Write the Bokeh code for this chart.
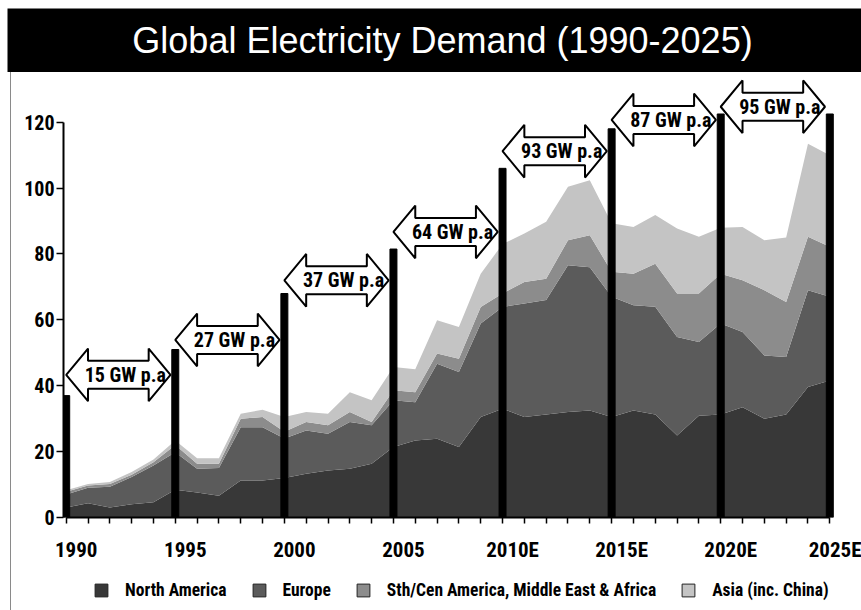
from bokeh.plotting import figure
from bokeh.models import (Range1d, LinearAxis, FixedTicker, Legend, LegendItem,
                          ColumnDataSource)
from bokeh.layouts import column
from bokeh.core.properties import value
from bokeh.embed import file_html
from bokeh.resources import INLINE

# ---- data -------------------------------------------------------------
years = list(range(1990, 2026))

north_america = [3.0, 4.3, 3.0, 4.0, 4.6, 8.4, 7.6, 6.6, 11.2, 11.2,
                 12.0, 13.3, 14.3, 14.8, 16.3, 21.4, 23.4, 23.9, 21.4, 30.5,
                 33.0, 30.5, 31.3, 32.0, 32.5, 30.5, 32.5, 31.3, 24.9, 30.9,
                 31.3, 33.5, 30.0, 31.3, 39.6, 41.6]
europe = [4.0, 4.7, 6.3, 8.3, 11.2, 11.4, 7.2, 8.4, 16.2, 16.2,
          12.0, 13.1, 11.1, 14.2, 11.7, 14.2, 11.6, 22.8, 22.8, 28.4,
          30.9, 34.5, 34.7, 44.6, 43.5, 36.5, 31.9, 32.7, 29.9, 22.4,
          27.6, 22.8, 19.2, 17.4, 29.4, 25.4]
sth_cen_mea = [0.8, 0.7, 0.9, 0.7, 1.0, 2.2, 1.5, 1.3, 2.6, 3.1,
               2.0, 2.6, 2.6, 3.0, 1.0, 3.0, 3.0, 3.1, 4.0, 5.0,
               4.1, 6.5, 6.5, 7.6, 9.7, 7.6, 9.6, 13.0, 13.2, 14.7,
               15.1, 15.7, 19.8, 16.7, 16.2, 15.2]
asia = [0.5, 0.5, 0.6, 0.8, 0.8, 1.4, 1.7, 1.7, 1.5, 2.2,
        4.5, 3.0, 3.5, 6.0, 6.6, 7.1, 7.0, 10.1, 9.6, 10.1,
        15.0, 14.7, 17.3, 16.2, 16.7, 14.7, 14.2, 14.8, 19.7, 17.2,
        14.0, 16.2, 15.2, 19.6, 28.3, 27.8]

region_names = ["North America", "Europe",
                "Sth/Cen America, Middle East & Africa", "Asia (inc. China)"]

bar_years = [1990, 1995, 2000, 2005, 2010, 2015, 2020, 2025]
bar_demand = [37, 51, 68, 81.5, 106, 118, 122.5, 122.5]
tick_labels = ["1990", "1995", "2000", "2005", "2010E", "2015E", "2020E", "2025E"]

growth_labels = ["15 GW p.a", "27 GW p.a", "37 GW p.a", "64 GW p.a",
                 "93 GW p.a", "87 GW p.a", "95 GW p.a"]

# ---- layout / style ---------------------------------------------------
TITLE = "Global Electricity Demand (1990-2025)"
NARROW = ("Liberation Sans Narrow, Roboto Condensed, Noto Sans Condensed, "
          "DejaVu Sans Condensed, Liberation Sans")
fills = ["#383838", "#5b5b5b", "#8c8c8c", "#c4c4c4"]

# faint rule down the left edge of the chart panel
PANEL_EDGE = {"background-image": "linear-gradient(#8a8a8a, #8a8a8a)",
              "background-size": "1px 100%",
              "background-position": "10px 0",
              "background-repeat": "no-repeat"}

PX_PER_YEAR = 21.817
FRAME_W, FRAME_H = 779, 442
x_start = 1990 - 2.7 / PX_PER_YEAR
x_end = x_start + FRAME_W / PX_PER_YEAR
label_shift = 10 / PX_PER_YEAR          # year labels sit a little right of their ticks

arrow_level = [43.3, 53.9, 72.0, 86.7, 111.2, 120.7, 124.7]   # vertical centre of each arrow
HEAD_LEN = 1.0     # years
HEAD_HALF = 8.0    # demand units
BODY_HALF = 4.25

# ---- heading bar ------------------------------------------------------
head = figure(width=861, height=72, x_range=Range1d(0, 854), y_range=Range1d(0, 64),
              toolbar_location=None, output_backend="svg",
              x_axis_type=None, y_axis_type=None,
              min_border_left=7, min_border_right=0, min_border_top=8, min_border_bottom=0,
              background_fill_color="black", border_fill_color="white",
              outline_line_color=None, frame_align=False)
head.grid.visible = False
head.text(x=[435], y=[32], text=[TITLE], text_color="white",
          text_font=value("Liberation Sans"), text_font_size="36px",
          text_align="center", text_baseline="middle")

# ---- main chart -------------------------------------------------------
p = figure(frame_width=FRAME_W, frame_height=FRAME_H,
           x_range=Range1d(x_start, x_end), y_range=Range1d(0, FRAME_H / 3.294),
           toolbar_location=None, output_backend="svg",
           x_axis_type=None,
           min_border_left=63, min_border_right=19, min_border_top=3, min_border_bottom=50,
           outline_line_color=None, background_fill_color="white",
           border_fill_alpha=0, frame_align=False, styles=PANEL_EDGE)
p.grid.visible = False
p.extra_x_ranges["labels"] = Range1d(x_start - label_shift, x_end - label_shift)

src = ColumnDataSource(dict(year=years, na=north_america, eu=europe,
                            sc=sth_cen_mea, asia=asia))
p.varea_stack(stackers=["na", "eu", "sc", "asia"], x="year", color=fills, source=src)

# benchmark columns every five years
p.vbar(x=bar_years, top=bar_demand, width=0.32, color="black")

# double-headed growth arrows between the columns
xs, ys, cx = [], [], []
for i, c in enumerate(arrow_level):
    L = bar_years[i]
    R = bar_years[i + 1] - 0.22
    xs.append([L, L + HEAD_LEN, L + HEAD_LEN, R - HEAD_LEN, R - HEAD_LEN, R,
               R - HEAD_LEN, R - HEAD_LEN, L + HEAD_LEN, L + HEAD_LEN])
    ys.append([c, c + HEAD_HALF, c + BODY_HALF, c + BODY_HALF, c + HEAD_HALF, c,
               c - HEAD_HALF, c - BODY_HALF, c - BODY_HALF, c - HEAD_HALF])
    cx.append((L + R) / 2)
p.patches(xs, ys, fill_color="white", line_color="black", line_width=2)
p.text(x=cx, y=arrow_level, text=growth_labels, x_offset=7,
       text_font=value(NARROW), text_font_style="bold", text_font_size="20px",
       text_align="center", text_baseline="middle", text_color="black")

# y axis
ya = p.yaxis[0]
ya.ticker = FixedTicker(ticks=[0, 20, 40, 60, 80, 100, 120])
ya.bounds = (0, 120)
ya.axis_line_width = 2
ya.major_tick_out = 7
ya.major_tick_in = 0
ya.major_tick_line_width = 1.5
ya.major_label_standoff = 2
ya.major_label_text_font = NARROW
ya.major_label_text_font_style = "bold"
ya.major_label_text_font_size = "20px"
ya.major_label_text_color = "black"

# x axis: line and a tick for every year
xa = LinearAxis(ticker=FixedTicker(ticks=[], minor_ticks=years), bounds=(1990, 2025),
                axis_line_width=2, minor_tick_out=6, minor_tick_in=0,
                minor_tick_line_width=1.5)
p.add_layout(xa, "below")

# x axis: year labels
xl = LinearAxis(x_range_name="labels", ticker=FixedTicker(ticks=bar_years),
                major_label_overrides=dict(zip(bar_years, tick_labels)),
                axis_line_color=None, major_tick_line_color=None, minor_tick_line_color=None,
                major_tick_out=0, major_tick_in=0, minor_tick_out=0, minor_tick_in=0,
                major_label_standoff=14,
                major_label_text_font=NARROW, major_label_text_font_style="bold",
                major_label_text_font_size="21px", major_label_text_color="black")
p.add_layout(xl, "below")

# ---- legend strip -----------------------------------------------------
key = figure(width=861, height=43, x_range=Range1d(0, 1), y_range=Range1d(0, 1),
             toolbar_location=None, output_backend="svg",
             x_axis_type=None, y_axis_type=None,
             min_border_left=0, min_border_right=0, min_border_top=0, min_border_bottom=0,
             outline_line_color=None, background_fill_alpha=0, border_fill_alpha=0,
             frame_align=False, styles=PANEL_EDGE)
key.grid.visible = False
# hidden square markers that only serve as legend swatches
swatches = [key.scatter(x="year", y=col, source=src, marker="square", fill_color=f,
                        line_color="#222222", line_width=1, visible=False)
            for col, f in zip(["na", "eu", "sc", "asia"], fills)]
legend = Legend(items=[LegendItem(label=n, renderers=[r]) for n, r in zip(region_names, swatches)],
                orientation="horizontal", location=(85, 4),
                glyph_width=32, glyph_height=32, label_standoff=8, spacing=16,
                padding=0, margin=0, border_line_color=None, background_fill_alpha=0,
                inactive_fill_alpha=0,
                label_text_font=NARROW, label_text_font_style="bold",
                label_text_font_size="17.5px", label_text_color="black")
key.add_layout(legend)

page = column(head, p, key, spacing=0)
open("out.html", "w").write(file_html(page, INLINE))
